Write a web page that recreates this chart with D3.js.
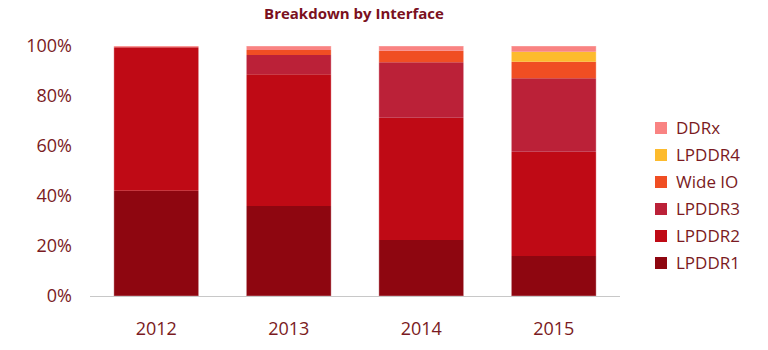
<!DOCTYPE html>
<html>
<head>
<meta charset="utf-8">
<script src="https://cdn.jsdelivr.net/npm/d3@7"></script>
<style>
  body { margin: 0; background: #fff; }
  text { font-family: "Open Sans", "Liberation Sans", sans-serif; }
</style>
</head>
<body>
<div id="d3chart"></div>
<script>
// DATA ===========================================================================================
const years = ['2012', '2013', '2014', '2015']
const seriesNames = ['LPDDR1', 'LPDDR2', 'LPDDR3', 'Wide IO', 'LPDDR4', 'DDRx']
// shares in %, one per year
const lpddr1 = [42.1, 36.0, 22.4, 16.0]
const lpddr2 = [57.4, 52.7, 48.9, 41.7]
const lpddr3 = [0.0, 7.7, 22.2, 29.4]
const wideIO = [0.0, 2.0, 4.6, 6.6]
const lpddr4 = [0.0, 0.0, 0.0, 4.0]
const ddrx = [0.5, 1.6, 1.9, 2.3]
const yTicks = [0, 0.2, 0.4, 0.6, 0.8, 1]

const seriesColors = ['#8e0610', '#bf0a15', '#bb2138', '#f04e23', '#fdbb2d', '#f98382']
const values = [lpddr1, lpddr2, lpddr3, wideIO, lpddr4, ddrx]

const data = years.map((yr, i) => {
  const row = { year: yr }
  seriesNames.forEach((s, j) => { row[s] = values[j][i] / 100 })
  return row
})

// SET UP =========================================================================================
const width = 768
const height = 350
const margin = { top: 46, bottom: 54, left: 90, right: 148 }
const ctrWidth = width - margin.left - margin.right
const ctrHeight = height - margin.top - margin.bottom
const textColor = '#7a1a22'

const svg = d3.select('#d3chart')
  .append('svg')
  .attr('width', width)
  .attr('height', height)

svg.append('text')
  .attr('x', 354)
  .attr('y', 19)
  .attr('text-anchor', 'middle')
  .attr('font-size', 15)
  .attr('font-weight', 'bold')
  .attr('fill', '#7a1020')
  .text('Breakdown by Interface')

const g = svg.append('g')
  .attr('transform', `translate(${margin.left}, ${margin.top})`)

// SCALES AND AXES ================================================================================
const x = d3.scaleBand()
  .domain(years)
  .range([0, ctrWidth])
  .paddingInner(0.36)
  .paddingOuter(0.18)

const y = d3.scaleLinear()
  .domain([0, 1])
  .range([ctrHeight, 0])

const stack = d3.stack().keys(seriesNames)(data)

// MARKS ==========================================================================================
g.selectAll('.layer')
  .data(stack)
  .join('g')
    .attr('fill', (d, i) => seriesColors[i])
  .selectAll('rect')
  .data(d => d)
  .join('rect')
    .attr('x', d => x(d.data.year))
    .attr('y', d => y(d[1]))
    .attr('height', d => y(d[0]) - y(d[1]))
    .attr('width', x.bandwidth())

// bar outlines
g.selectAll('.outline')
  .data(years)
  .join('rect')
    .attr('x', d => x(d))
    .attr('y', y(1))
    .attr('width', x.bandwidth())
    .attr('height', ctrHeight)
    .attr('fill', 'none')
    .attr('stroke', 'rgba(255,255,255,0.35)')
    .attr('stroke-width', 1)

// baseline
g.append('line')
  .attr('x1', 0)
  .attr('x2', ctrWidth)
  .attr('y1', ctrHeight + 0.5)
  .attr('y2', ctrHeight + 0.5)
  .attr('stroke', '#c8c8c8')
  .attr('stroke-width', 1)

const yAxis = g.append('g')
  .call(d3.axisLeft(y).tickValues(yTicks).tickFormat(d3.format('.0%')).tickSize(0).tickPadding(18))
yAxis.select('.domain').remove()
yAxis.selectAll('text')
  .attr('font-size', 18)
  .attr('fill', textColor)
  .attr('font-family', '"Open Sans", "Liberation Sans", sans-serif')

const xAxis = g.append('g')
  .attr('transform', `translate(0, ${ctrHeight})`)
  .call(d3.axisBottom(x).tickSize(0).tickPadding(26))
xAxis.select('.domain').remove()
xAxis.selectAll('text')
  .attr('font-size', 18)
  .attr('fill', textColor)
  .attr('font-family', '"Open Sans", "Liberation Sans", sans-serif')

// LEGEND =========================================================================================
const legendItems = seriesNames.map((s, i) => ({ name: s, color: seriesColors[i] })).reverse()
const legend = svg.append('g')
  .attr('transform', 'translate(655, 122)')

const li = legend.selectAll('g')
  .data(legendItems)
  .join('g')
    .attr('transform', (d, i) => `translate(0, ${i * 27})`)

li.append('rect')
  .attr('width', 12)
  .attr('height', 12)
  .attr('fill', d => d.color)

li.append('text')
  .attr('x', 21)
  .attr('y', 12)
  .attr('font-size', 17)
  .attr('fill', textColor)
  .text(d => d.name)
</script>
</body>
</html>
